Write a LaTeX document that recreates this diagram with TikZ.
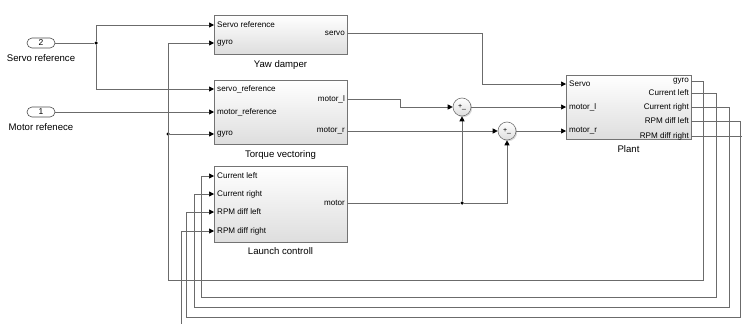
\documentclass[tikz,border=0pt]{standalone}
\usepackage{fontspec}
\setmainfont{Liberation Sans}
\usetikzlibrary{arrows.meta,positioning,shadows}

\begin{document}
\begin{tikzpicture}[x=1pt,y=-1pt,font=\fontsize{8.1}{9}\selectfont,
  blk/.style={draw=black!55,line width=0.6pt,top color=white,bottom color=black!13,inner sep=0pt,
    drop shadow={shadow xshift=1.2pt,shadow yshift=-1.2pt,opacity=0.3}},
  sum/.style={blk,circle,minimum size=18pt,font=\fontsize{7}{7}\selectfont},
  inport/.style={draw=black!70,line width=0.6pt,rounded corners=5pt,minimum width=28pt,minimum height=10pt,inner sep=0pt,font=\fontsize{8.5}{8.5}\selectfont},
  caption/.style={font=\fontsize{9.6}{11}\selectfont,inner sep=1pt},
  pin/.style={inner xsep=3pt,inner ysep=1pt},
  pout/.style={inner xsep=2pt,inner ysep=1pt,anchor=east},
  wire/.style={draw=black!58,line width=0.7pt},
  arr/.style={wire,-{Triangle[length=5pt,width=5pt,color=black]}},
  dot/.style={circle,fill=black,inner sep=0pt,minimum size=3.5pt}]
\useasboundingbox (0,0) rectangle (742,324);
% inports
\node[inport] (ref2) at (41,43) {2};
\node[caption,below=5pt of ref2] (ref2lbl) {Servo reference};
\node[inport] (ref1) at (41,112) {1};
\node[caption,below=5pt of ref1] (ref1lbl) {Motor refenece};
% subsystems
\node[blk,minimum width=133pt,minimum height=39pt] (yaw) at (280.5,34.5) {};
\node[caption,below=5pt of yaw] (yawlbl) {Yaw damper};
\node[pin,anchor=west] (ydsr) at (214,25) {Servo reference};
\node[pin,anchor=west] (ydgy) at (214,43) {gyro};
\node[pout] (ydsv) at (347,33) {servo};
\node[blk,minimum width=133pt,minimum height=64pt] (torque) at (280.5,112) {};
\node[caption,below=5pt of torque] (torquelbl) {Torque vectoring};
\node[pin,anchor=west] (tvsr) at (214,89) {servo\_reference};
\node[pin,anchor=west] (tvmr) at (214,112) {motor\_reference};
\node[pin,anchor=west] (tvgy) at (214,134) {gyro};
\node[pout] (tvml) at (347,99) {motor\_l};
\node[pout] (tvmo) at (347,131) {motor\_r};
\node[blk,minimum width=133pt,minimum height=76pt] (launch) at (280.5,204) {};
\node[caption,below=4pt of launch] (launchlbl) {Launch controll};
\node[pin,anchor=west] (lccl) at (214,176) {Current left};
\node[pin,anchor=west] (lccr) at (214,194) {Current right};
\node[pin,anchor=west] (lcrl) at (214,212) {RPM diff left};
\node[pin,anchor=west] (lcrr) at (214,231) {RPM diff right};
\node[pout] (lcmo) at (347,203) {motor};
\node[blk,minimum width=125pt,minimum height=64pt] (plant) at (628.5,107) {};
\node[caption,below=5pt of plant] (plantlbl) {Plant};
\node[pin,anchor=west] (psv) at (566,84) {Servo};
\node[pin,anchor=west] (pml) at (566,107) {motor\_l};
\node[pin,anchor=west] (pmr) at (566,131) {motor\_r};
\node[pout] (pgy) at (691,81) {gyro};
\node[pout] (pcl) at (691,93) {Current left};
\node[pout] (pcr) at (691,107) {Current right};
\node[pout] (prl) at (691,121) {RPM diff left};
\node[pout] (prr) at (691,136) {RPM diff right};
% sums
\node[sum] (sum1) at (462,107) {+\_};
\node[sum] (sum2) at (507,131) {+\_};
% branch points
\node[dot] (jsr) at (96,43) {};
\node[dot] (jgy) at (168,134) {};
\node[dot] (jmo) at (462,203) {};
\coordinate (cutR) at (742,136);
\coordinate (cutB) at (181,324);
% references
\draw[wire] (ref2.east) -- (jsr);
\draw[arr] (jsr) |- (ydsr.west);
\draw[arr] (jsr) |- (tvsr.west);
\draw[arr] (ref1.east) -- (tvmr.west);
% forward path
\draw[arr] (ydsv.east) -- (482,33) |- (psv.west);
\draw[arr] (tvml.east) -- (400,99) |- (sum1.west);
\draw[arr] (tvmo.east) -- (sum2.west);
\draw[arr] (sum1.east) -- (pml.west);
\draw[arr] (sum2.east) -- (pmr.west);
\draw[wire] (lcmo.east) -- (jmo);
\draw[arr] (jmo) -- (sum1.south);
\draw[arr] (jmo) -| (sum2.south);
% feedback
\draw[arr] (pgy.east) -- (703,81) -- (703,280) -- (168,280) |- (ydgy.west);
\draw[arr] (jgy) -- (tvgy.west);
\draw[arr] (pcl.east) -- (716,93) -- (716,297) -- (201,297) |- (lccl.west);
\draw[arr] (pcr.east) -- (729,107) -- (729,307) -- (194,307) |- (lccr.west);
\draw[arr] (prl.east) -- (740,121) -- (740,317) -- (186,317) |- (lcrl.west);
\draw[wire] (prr.east) -- (cutR);
\draw[arr] (cutB) |- (lcrr.west);
\end{tikzpicture}
\end{document}
